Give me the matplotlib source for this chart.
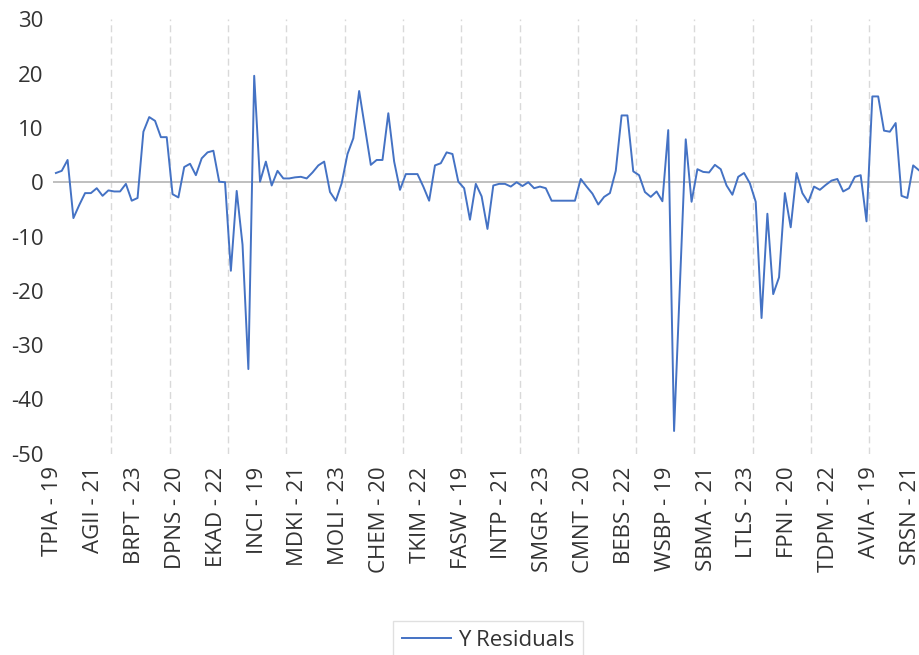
import matplotlib
matplotlib.use("Agg")
import matplotlib.pyplot as plt
import matplotlib.transforms as mtrans
import numpy as np

tick_labels = ["TPIA - 19", "AGII - 21", "BRPT - 23", "DPNS - 20", "EKAD - 22",
               "INCI - 19", "MDKI - 21", "MOLI - 23", "CHEM - 20", "TKIM - 22",
               "FASW - 19", "INTP - 21", "SMGR - 23", "CMNT - 20", "BEBS - 22",
               "WSBP - 19", "SBMA - 21", "LTLS - 23", "FPNI - 20", "TDPM - 22",
               "AVIA - 19", "SRSN - 21"]

residuals = [
    1.7, 2.1, 4.1, -6.6, -4.2, -2.0, -2.0, -1.1, -2.5, -1.5,
    -1.7, -1.7, -0.3, -3.4, -2.9, 9.3, 12.0, 11.3, 8.3, 8.3,
    -2.2, -2.8, 2.8, 3.4, 1.3, 4.4, 5.5, 5.8, 0.1, 0.0,
    -16.3, -1.6, -11.5, -34.4, 19.6, 0.1, 3.8, -0.6, 2.1, 0.7,
    0.7, 0.9, 1.0, 0.7, 1.8, 3.1, 3.8, -1.8, -3.4, -0.2,
    5.2, 8.1, 16.8, 10.0, 3.2, 4.1, 4.1, 12.7, 3.8, -1.4,
    1.5, 1.5, 1.5, -0.8, -3.4, 3.1, 3.5, 5.5, 5.2, 0.1,
    -1.1, -6.9, -0.3, -2.6, -8.6, -0.6, -0.3, -0.3, -0.8, 0.0,
    -0.7, 0.0, -1.1, -0.8, -1.1, -3.4, -3.4, -3.4, -3.4, -3.4,
    0.6, -0.8, -2.1, -4.1, -2.7, -2.0, 2.1, 12.3, 12.3, 2.0,
    1.3, -1.8, -2.7, -1.7, -3.5, 9.6, -45.8, -19.0, 7.9, -3.6,
    2.4, 1.9, 1.8, 3.2, 2.4, -0.6, -2.3, 1.0, 1.7, -0.2,
    -3.6, -25.0, -5.8, -20.6, -17.5, -2.0, -8.3, 1.7, -2.0, -3.7,
    -0.8, -1.4, -0.5, 0.3, 0.6, -1.7, -1.1, 1.0, 1.3, -7.2,
    15.8, 15.8, 9.5, 9.3, 10.9, -2.5, -2.9, 3.1, 2.2,
]

y_ticks = [30, 20, 10, 0, -10, -20, -30, -40, -50]

plt.rcParams['font.family'] = ['Open Sans', 'DejaVu Sans']

W, H = 919, 655
fig = plt.figure(figsize=(W / 100, H / 100), dpi=100)
left, right, top, bottom = 53, 919, 19.3, 453.8
ax = fig.add_axes([left / W, 1 - bottom / H, (right - left) / W, (bottom - top) / H])

x = np.arange(len(residuals))
ax.plot(x, residuals, color='#4472C4', lw=1.4, label='Y Residuals', zorder=3)
ax.axhline(0, color='#BFBFBF', lw=1.4, zorder=2)
for g in np.arange(9.5, len(residuals), 10):
    ax.axvline(g, color='#D9D9D9', lw=1.0, ls=(0, (5, 3)), zorder=1)

ax.set_xlim(-0.5, len(residuals) - 1)
ax.set_ylim(-50, 30)
ax.set_yticks(y_ticks)
ax.set_yticklabels([str(v) for v in y_ticks], fontsize=16, color='#333333')
ax.set_xticks(np.arange(0, len(residuals), 7))
ax.set_xticklabels(tick_labels, rotation=90, fontsize=16, color='#333333')
ax.tick_params(axis='both', length=0)
ax.tick_params(axis='y', pad=7)
ax.tick_params(axis='x', pad=9)
for s in ax.spines.values():
    s.set_visible(False)

shift = mtrans.ScaledTranslation(-3 / 100, 0, fig.dpi_scale_trans)
for lbl in ax.get_xticklabels():
    lbl.set_transform(lbl.get_transform() + shift)

leg = fig.legend(loc='upper center', bbox_to_anchor=(488 / W, 1 - 621 / H),
                 frameon=True, fancybox=False, edgecolor='#D9D9D9',
                 fontsize=16, handlelength=2.2, handletextpad=0.3,
                 borderpad=0.4, borderaxespad=0.0)
leg.get_frame().set_linewidth(1.0)
for t in leg.get_texts():
    t.set_color('#333333')

fig.savefig('out.png', dpi=100)
